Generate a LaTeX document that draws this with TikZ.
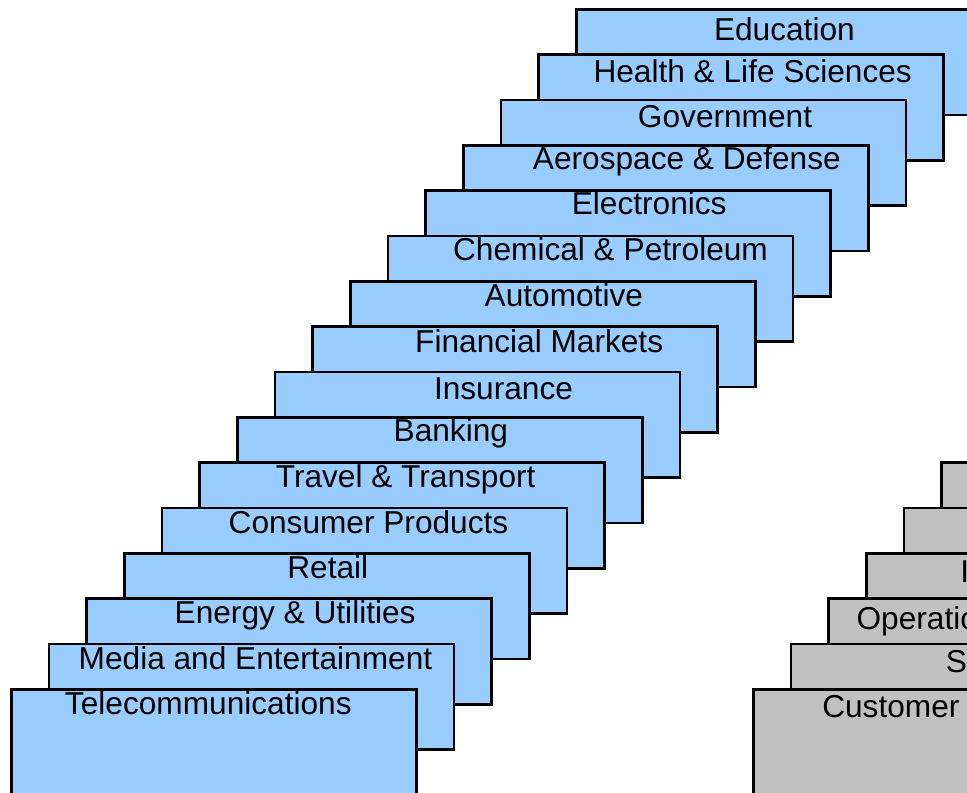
\documentclass[tikz,border=0pt]{standalone}
\usepackage{fontspec}
\setmainfont{Liberation Sans}
\usetikzlibrary{calc}
\definecolor{cardblue}{HTML}{99CCFF}
\definecolor{cardgrey}{HTML}{C0C0C0}
\tikzset{
   card/.style={draw=black, line width=1.8pt, minimum width=10.125cm, minimum height=2.64cm, inner sep=0pt, anchor=north west},
   cardtext/.style={inner sep=0pt, anchor=base, font=\fontsize{22.5}{27}\selectfont},
}

\begin{document}
\begin{tikzpicture}[x=0.025cm, y=-0.025cm]

		\useasboundingbox (0,0) rectangle (967,792);
		\clip (0,0) rectangle (967,792);

		% Industries (back to front)
		\foreach \i/\name/\dx/\dy in {15/Education/5.5/32, 14/Health \& Life Sciences/11.5/29,
			13/Government/21.5/29, 12/Aerospace \& Defense/21/25, 11/Electronics/21/25,
			10/Chemical \& Petroleum/20/26, 9/Automotive/11/26, 8/Financial Markets/24/27,
			7/Insurance/26/29, 6/Banking/11/25, 5/Travel \& Transport/3.5/26,
			4/Consumer Products/4/27, 3/Retail/1/26, 2/Energy \& Utilities/6/26,
			1/Media and Entertainment/4/27, 0/Telecommunications/-5.5/26}
		{
			\node[card, fill=cardblue] (ind\i) at (10+37.67*\i, 688-45.33*\i) {};
			\node[cardtext] (indname\i) at ($ (ind\i.north)+(\dx,\dy) $) {\name};
		}

		% Functions (back to front)
		\foreach \j in {5,...,0}
			\node[card, fill=cardgrey] (fn\j) at (752+37.67*\j, 688-45.33*\j) {};

		%% Labeled
		\node[cardtext, anchor=base west] (fnname3) at ($ (fn3.north west)+(95,30) $) {I};
		\node[cardtext, anchor=base west] (fnname2) at ($ (fn2.north west)+(29,32) $) {Operations};
		\node[cardtext, anchor=base west] (fnname1) at ($ (fn1.north west)+(156,30) $) {S};
		\node[cardtext, anchor=base west] (fnname0) at ($ (fn0.north west)+(70,29) $) {Customer};
	\end{tikzpicture}
\end{document}
